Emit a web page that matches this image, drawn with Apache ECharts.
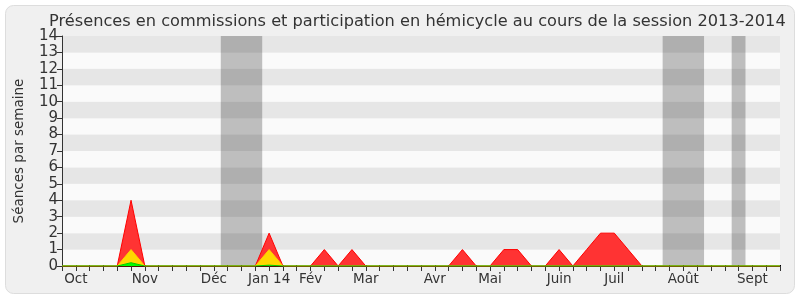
<!DOCTYPE html>
<html>
<head>
<meta charset="utf-8">
<script src="https://cdn.jsdelivr.net/npm/echarts@6/dist/echarts.min.js"></script>
<style>
html,body{margin:0;padding:0;background:#fff;}
#chart{width:800px;height:300px;}
</style>
</head>
<body>
<div id="chart"></div>
<script>
// Weekly index 0..52 (session 2013-2014)
var weekCount = 53;
var monthLabelWeeks = [1, 6, 11, 15, 18, 22, 27, 31, 36, 40, 45, 50];
var monthLabels = ['Oct', 'Nov', 'Déc', 'Jan 14', 'Fév', 'Mar', 'Avr', 'Mai', 'Juin', 'Juil', 'Août', 'Sept'];
var redValues = [0,0,0,0,0,4,0,0,0,0,0,0,0,0,0,2,0,0,0,1,0,1,0,0,0,0,0,0,0,1,0,0,1,1,0,0,1,0,1,2,2,1,0,0,0,0,0,0,0,0,0,0,0];
var yellowValues = [0,0,0,0,0,1,0,0,0,0,0,0,0,0,0,1,0,0,0,0,0,0,0,0,0,0,0,0,0,0,0,0,0,0,0,0,0,0,0,0,0,0,0,0,0,0,0,0,0,0,0,0,0];
var greenValues = [0,0,0,0,0,0.2,0,0,0,0,0,0,0,0,0,0.05,0,0,0,0,0,0,0,0,0,0,0,0,0,0,0,0,0,0,0,0,0,0,0,0,0,0,0,0,0,0,0,0,0,0,0,0,0];
var vacationStart = [11.5, 43.5, 48.5];
var vacationEnd = [14.5, 46.5, 49.5];
var yTicks = 14;

function pairs(vals){ return vals.map(function(v,i){ return [i, v]; }); }
var labelMap = {};
monthLabelWeeks.forEach(function(w,i){ labelMap[w] = monthLabels[i]; });

var FONT = 'DejaVu Sans';
var chart = echarts.init(document.getElementById('chart'), null, {renderer:'canvas'});
chart.setOption({
  animation: false,
  backgroundColor: '#ffffff',
  textStyle: {fontFamily: FONT},
  graphic: [{
    type: 'rect', z: -10, silent: true,
    shape: {x: 5.5, y: 5.5, width: 789, height: 288, r: 8},
    style: {fill: '#f0f0f0', stroke: '#dddddd', lineWidth: 1}
  }],
  title: {
    text: 'Présences en commissions et participation en hémicycle au cours de la session 2013-2014',
    left: 44, top: 9,
    textStyle: {fontFamily: FONT, fontSize: 16.2, fontWeight: 'normal', color: '#333333'}
  },
  grid: {left: 62, right: 20, top: 36, bottom: 34, containLabel: false},
  xAxis: [{
    type: 'value', min: 0, max: weekCount - 1, interval: 1, position: 'bottom',
    axisLine: {show: true, onZero: false, lineStyle: {color: '#4a1a00', width: 1}},
    axisTick: {show: true, length: 5, lineStyle: {color: '#333333'}},
    axisLabel: {
      show: true, margin: 6, fontSize: 13.5, color: '#333333', fontFamily: FONT,
      formatter: function(v){ return labelMap[Math.round(v)] || ''; }
    },
    splitLine: {show: false}
  }, {
    type: 'value', min: 0, max: weekCount - 1, interval: 1, position: 'top',
    axisLine: {show: false},
    axisTick: {show: true, length: 1, inside: false, lineStyle: {color: '#000000'}},
    axisLabel: {show: false},
    splitLine: {show: false}
  }],
  yAxis: {
    type: 'value', min: 0, max: yTicks, interval: 1,
    name: 'Séances par semaine', nameLocation: 'middle', nameGap: 36,
    nameTextStyle: {fontFamily: FONT, fontSize: 13.5, color: '#333333'},
    axisLine: {show: true, lineStyle: {color: '#333333'}},
    axisTick: {show: true, length: 5, lineStyle: {color: '#333333'}},
    axisLabel: {fontSize: 15, color: '#333333', margin: 4, fontFamily: FONT},
    splitLine: {show: false},
    splitArea: {show: true, areaStyle: {color: ['#fafafa', '#e6e6e6']}}
  },
  series: [{
    name: 'vacances', type: 'line', data: [], z: 1, silent: true,
    markArea: {
      silent: true,
      itemStyle: {color: 'rgba(0,0,0,0.24)'},
      data: vacationStart.map(function(s,i){ return [{xAxis: s, yAxis: 0}, {xAxis: vacationEnd[i], yAxis: yTicks}]; })
    }
  }, {
    name: 'commission', type: 'line', data: pairs(redValues), z: 3,
    symbol: 'none', smooth: false,
    lineStyle: {color: '#ff0000', width: 1},
    areaStyle: {color: '#ff3333', opacity: 1}
  }, {
    name: 'hemicycle', type: 'line', data: pairs(yellowValues), z: 4,
    symbol: 'none',
    lineStyle: {color: '#ffcc00', width: 1},
    areaStyle: {color: '#ffd700', opacity: 1}
  }, {
    name: 'interventions', type: 'line', data: pairs(greenValues), z: 5,
    symbol: 'none',
    lineStyle: {color: '#00cc00', width: 1},
    areaStyle: {color: '#00ff00', opacity: 1}
  }]
});
</script>
</body>
</html>
